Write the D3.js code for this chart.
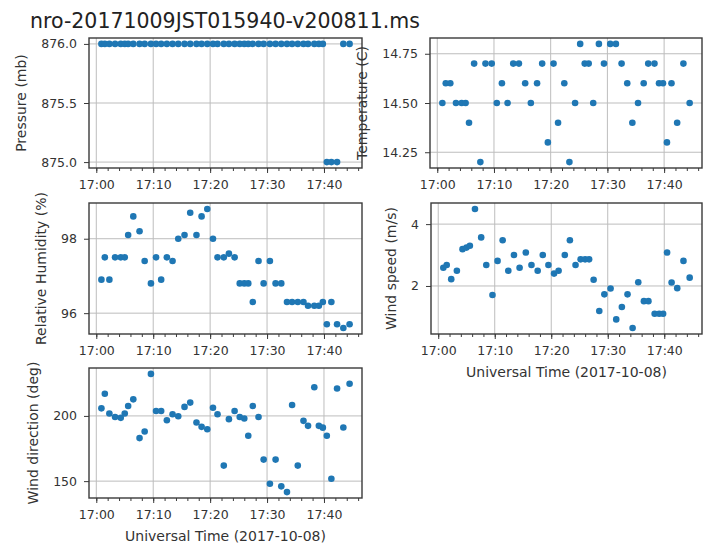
<!DOCTYPE html>
<html>
<head>
<meta charset="utf-8">
<script src="https://cdn.jsdelivr.net/npm/d3@7"></script>
<style>
  body { margin: 0; background: #fff; }
  text { font-family: "DejaVu Sans", sans-serif; }
</style>
</head>
<body>
<div class="holder"></div>
<script>
"use strict";

const titleText = "nro-20171009JST015940-v200811.ms";
const dayString = "2017-10-08";
const xLabelText = "Universal Time (2017-10-08)";

// sample times, minutes after 17:00 UT
const minutes = [0.9, 1.5, 2.3, 3.3, 4.3, 5.0, 5.6, 6.5, 7.6, 8.5,
  9.6, 10.5, 11.4, 12.4, 13.4, 14.4, 15.5, 16.5, 17.6, 18.5,
  19.5, 20.5, 21.3, 22.4, 23.3, 24.3, 25.2, 26.0, 26.7, 27.5,
  28.5, 29.4, 30.5, 31.5, 32.5, 33.5, 34.4, 35.4, 36.4, 37.2,
  38.3, 39.1, 39.8, 40.5, 41.3, 42.3, 43.4, 44.5];

const pressure = [876.0, 876.0, 876.0, 876.0, 876.0, 876.0, 876.0, 876.0, 876.0, 876.0,
  876.0, 876.0, 876.0, 876.0, 876.0, 876.0, 876.0, 876.0, 876.0, 876.0,
  876.0, 876.0, 876.0, 876.0, 876.0, 876.0, 876.0, 876.0, 876.0, 876.0,
  876.0, 876.0, 876.0, 876.0, 876.0, 876.0, 876.0, 876.0, 876.0, 876.0,
  876.0, 876.0, 876.0, 875.0, 875.0, 875.0, 876.0, 876.0];

const temperature = [14.5, 14.6, 14.6, 14.5, 14.5, 14.5, 14.4, 14.7, 14.2, 14.7,
  14.7, 14.5, 14.6, 14.5, 14.7, 14.7, 14.6, 14.5, 14.6, 14.7,
  14.3, 14.7, 14.4, 14.6, 14.2, 14.5, 14.8, 14.7, 14.7, 14.5,
  14.8, 14.7, 14.8, 14.8, 14.7, 14.6, 14.4, 14.5, 14.6, 14.7,
  14.7, 14.6, 14.6, 14.3, 14.6, 14.4, 14.7, 14.5];

const humidity = [96.9, 97.5, 96.9, 97.5, 97.5, 97.5, 98.1, 98.6, 98.2, 97.4,
  96.8, 97.5, 96.9, 97.5, 97.4, 98.0, 98.1, 98.7, 98.1, 98.6,
  98.8, 98.0, 97.5, 97.5, 97.6, 97.5, 96.8, 96.8, 96.8, 96.3,
  97.4, 96.8, 97.4, 96.8, 96.8, 96.3, 96.3, 96.3, 96.3, 96.2,
  96.2, 96.2, 96.3, 95.7, 96.3, 95.7, 95.6, 95.7];

const windSpeed = [2.59, 2.68, 2.22, 2.49, 3.19, 3.24, 3.30, 4.49, 3.57, 2.68,
  1.71, 2.81, 3.48, 2.49, 3.0, 2.59, 3.08, 2.68, 2.49, 3.0,
  2.68, 2.40, 2.49, 3.0, 3.48, 2.68, 2.86, 2.86, 2.86, 2.2,
  1.19, 1.73, 1.92, 0.92, 1.32, 1.73, 0.64, 2.12, 1.51, 1.51,
  1.10, 1.10, 1.10, 3.08, 2.11, 1.93, 2.81, 2.27];

const windDir = [205.8, 217.0, 201.8, 199.2, 198.5, 201.8, 207.6, 212.7, 183.0, 188.0,
  232.2, 203.8, 203.8, 196.7, 201.3, 199.7, 206.9, 210.2, 194.9, 191.6,
  189.8, 206.3, 201.3, 161.9, 197.5, 203.8, 199.2, 198.0, 184.8, 207.6,
  199.2, 166.5, 148.0, 166.5, 146.0, 141.6, 208.4, 161.9, 196.2, 192.4,
  222.0, 192.4, 191.0, 184.8, 151.8, 221.0, 191.1, 224.6];

const xTickLabels = ["17:00", "17:10", "17:20", "17:30", "17:40"];
const pressureTicks = [875.0, 875.5, 876.0];
const temperatureTicks = [14.25, 14.5, 14.75];
const humidityTicks = [96, 98];
const windSpeedTicks = [2, 4];
const windDirTicks = [150, 200];

const w = 703;
const h = 545;
const dotColor = "#1f77b4";

const svg = d3
  .select(".holder")
  .append("svg")
  .attr("width", w)
  .attr("height", h);

svg
  .append("text")
  .attr("x", 30)
  .attr("y", 28)
  .attr("font-size", 20.5)
  .attr("fill", "#222")
  .text(titleText);

const parseTime = d3.utcParse("%Y-%m-%d %H:%M");
const base = parseTime(dayString + " 17:00");
const times = minutes.map((m) => new Date(base.getTime() + m * 60000));
const xTicks = xTickLabels.map((t) => parseTime(dayString + " " + t));

// matplotlib style 5% margin
const padded = (values) => {
  const [lo, hi] = d3.extent(values, (v) => +v);
  const pad = (hi - lo) * 0.05;
  return [lo - pad, hi + pad];
};

const panels = [
  { values: pressure, ticks: pressureTicks, fmt: d3.format(".1f"),
    label: "Pressure (mb)", box: [89, 38, 273, 130] },
  { values: temperature, ticks: temperatureTicks, fmt: d3.format(".2f"),
    label: "Temperature (C)", box: [430, 38, 272, 130] },
  { values: humidity, ticks: humidityTicks, fmt: d3.format("d"),
    label: "Relative Humidity (%)", box: [89, 203, 273, 131] },
  { values: windSpeed, ticks: windSpeedTicks, fmt: d3.format("d"),
    label: "Wind speed (m/s)", box: [431, 203, 271, 131], xlabel: true },
  { values: windDir, ticks: windDirTicks, fmt: d3.format("d"),
    label: "Wind direction (deg)", box: [89, 368, 273, 130], xlabel: true },
];

const drawPanel = (p) => {
  const [left, top, pw, ph] = p.box;
  const g = svg.append("g").attr("transform", `translate(${left},${top})`);

  const x = d3.scaleUtc().domain(padded(times)).range([0, pw]);
  const y = d3.scaleLinear().domain(padded(p.values)).range([ph, 0]);

  g.append("rect").attr("width", pw).attr("height", ph).attr("fill", "#fff");

  g.append("g")
    .selectAll("line")
    .data(xTicks)
    .enter()
    .append("line")
    .attr("x1", (d) => x(d))
    .attr("x2", (d) => x(d))
    .attr("y1", 0)
    .attr("y2", ph)
    .attr("stroke", "#bdbdbd")
    .attr("stroke-width", 1);

  g.append("g")
    .selectAll("line")
    .data(p.ticks)
    .enter()
    .append("line")
    .attr("x1", 0)
    .attr("x2", pw)
    .attr("y1", (d) => y(d))
    .attr("y2", (d) => y(d))
    .attr("stroke", "#bdbdbd")
    .attr("stroke-width", 1);

  g.append("defs")
    .append("clipPath")
    .attr("id", "clip" + left + top)
    .append("rect")
    .attr("width", pw)
    .attr("height", ph);

  g.append("g")
    .attr("clip-path", `url(#clip${left}${top})`)
    .selectAll("circle")
    .data(p.values)
    .enter()
    .append("circle")
    .attr("cx", (d, i) => x(times[i]))
    .attr("cy", (d) => y(d))
    .attr("r", 3.3)
    .attr("fill", dotColor);

  g.append("rect")
    .attr("width", pw)
    .attr("height", ph)
    .attr("fill", "none")
    .attr("stroke", "#3a3a3a")
    .attr("stroke-width", 1.4);

  const minorAxis = d3
    .axisBottom(x)
    .ticks(d3.utcMinute.every(2))
    .tickSize(3)
    .tickFormat("");
  g.append("g")
    .attr("transform", `translate(0,${ph})`)
    .call(minorAxis)
    .call((a) => a.select(".domain").remove())
    .selectAll("line")
    .attr("stroke", "#3a3a3a");

  const xAxis = d3
    .axisBottom(x)
    .tickValues(xTicks)
    .tickFormat(d3.utcFormat("%H:%M"))
    .tickSize(5)
    .tickPadding(7);
  const xg = g
    .append("g")
    .attr("transform", `translate(0,${ph})`)
    .call(xAxis);
  xg.select(".domain").remove();
  xg.selectAll("line").attr("stroke", "#3a3a3a");
  xg.selectAll("text").attr("font-size", 12.5).attr("fill", "#333");

  const yAxis = d3
    .axisLeft(y)
    .tickValues(p.ticks)
    .tickFormat(p.fmt)
    .tickSize(5)
    .tickPadding(7);
  const yg = g.append("g").call(yAxis);
  yg.select(".domain").remove();
  yg.selectAll("line").attr("stroke", "#3a3a3a");
  yg.selectAll("text").attr("font-size", 12.5).attr("fill", "#333");
  yg.attr("font-family", null);
  xg.attr("font-family", null);

  const labelX = yg.node().getBBox().x - 15;
  g.append("text")
    .attr("transform", `translate(${labelX},${ph / 2}) rotate(-90)`)
    .attr("text-anchor", "middle")
    .attr("font-size", 14)
    .attr("fill", "#333")
    .text(p.label);

  if (p.xlabel) {
    g.append("text")
      .attr("x", pw / 2)
      .attr("y", ph + 43)
      .attr("text-anchor", "middle")
      .attr("font-size", 14)
      .attr("fill", "#333")
      .text(xLabelText);
  }
};

panels.forEach(drawPanel);
</script>
</body>
</html>
